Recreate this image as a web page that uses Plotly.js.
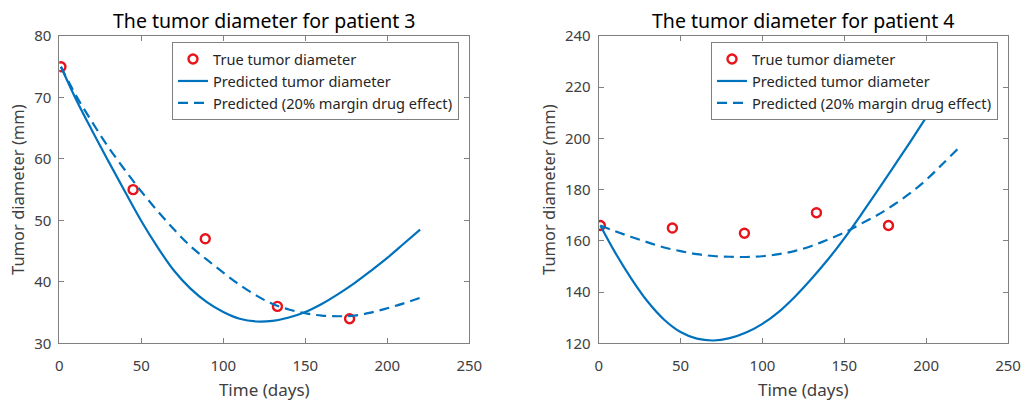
<!DOCTYPE html>
<html>
<head>
<meta charset="utf-8">
<script src="https://cdn.plot.ly/plotly-3.0.1.min.js"></script>
<style>
  html, body { margin: 0; padding: 0; background: #fff; }
  #chart { width: 1025px; height: 401px; }
</style>
</head>
<body>
<div id="chart"></div>
<script>
// Measurement days and observed diameters
const obsDays = [1, 45, 89, 133, 177];
const truePatient3 = [75, 55, 47, 36, 34];
const truePatient4 = [166, 165, 163, 171, 166];

// Model time grid
const modelDays = [1, 10, 20, 30, 40, 50, 60, 70, 80, 90, 100, 110, 120, 130, 140, 150, 160, 170, 180, 190, 200, 210, 220];

// Patient 3 predictions
const predPatient3 = [75.0, 69.8, 64.6, 59.6, 54.7, 49.9, 45.6, 41.8, 38.9, 36.7, 35.1, 34.0, 33.55, 33.65, 34.2, 35.1, 36.4, 38.0, 39.8, 41.8, 43.9, 46.2, 48.5];
const marginPatient3 = [75.0, 70.4, 66.0, 61.9, 58.2, 54.7, 51.5, 48.5, 45.8, 43.6, 41.5, 39.5, 37.8, 36.4, 35.5, 34.9, 34.5, 34.4, 34.5, 35.0, 35.7, 36.5, 37.4];

// Patient 4 predictions
const predPatient4 = [166, 155.5, 145.2, 136.2, 129.2, 124.4, 121.8, 121.1, 122.0, 124.2, 127.6, 132.3, 138.3, 145.2, 152.7, 161.0, 170.0, 179.3, 188.8, 198.4, 208.2, 218.2, 228.4];
const marginPatient4 = [166, 163.8, 161.5, 159.4, 157.4, 156.0, 154.8, 154.1, 153.8, 153.7, 154.0, 154.8, 156.1, 158.0, 160.5, 163.2, 166.6, 170.0, 174.0, 178.5, 183.8, 190.0, 196.4];

// Labels
const titles = ['The tumor diameter for patient 3', 'The tumor diameter for patient 4'];
const seriesNames = ['True tumor diameter', 'Predicted tumor diameter', 'Predicted (20% margin drug effect)'];
const xTitle = 'Time (days)';
const yTitle = 'Tumor diameter (mm)';

const BLUE = '#0072BD';
const RED = '#E8141B';
const FONT = 'Noto Sans, Open Sans, sans-serif';

function panel(xa, ya, leg, obs, pred, marg) {
  return [
    { x: obsDays, y: obs, xaxis: xa, yaxis: ya, legend: leg, name: seriesNames[0],
      type: 'scatter', mode: 'markers',
      marker: { symbol: 'circle-open', size: 9, color: RED, line: { width: 2.4, color: RED } } },
    { x: modelDays, y: pred, xaxis: xa, yaxis: ya, legend: leg, name: seriesNames[1],
      type: 'scatter', mode: 'lines',
      line: { color: BLUE, width: 2.2, shape: 'spline', smoothing: 1 } },
    { x: modelDays, y: marg, xaxis: xa, yaxis: ya, legend: leg, name: seriesNames[2],
      type: 'scatter', mode: 'lines',
      line: { color: BLUE, width: 2.2, dash: '10px,6px', shape: 'spline', smoothing: 1 } }
  ];
}

const traces = [
  ...panel('x', 'y', 'legend', truePatient3, predPatient3, marginPatient3),
  ...panel('x2', 'y2', 'legend2', truePatient4, predPatient4, marginPatient4)
];

const W = 1025, H = 401;
const px = v => v / W;
const py = v => 1 - v / H;

function xAxis(domain) {
  return {
    domain: domain, range: [0, 250], tickvals: [0, 50, 100, 150, 200, 250],
    ticks: 'inside', ticklen: 5, tickcolor: '#808080', tickwidth: 1,
    showline: true, linecolor: '#808080', linewidth: 1, mirror: 'ticks',
    showgrid: false, zeroline: false, ticklabelstandoff: 9,
    tickfont: { family: FONT, size: 15, color: '#404040' },
    title: { text: xTitle, font: { family: FONT, size: 17, color: '#404040' }, standoff: 9 }
  };
}
function yAxis(domain, range, dtick, anchor) {
  return {
    domain: domain, range: range, dtick: dtick, anchor: anchor,
    ticks: 'inside', ticklen: 5, tickcolor: '#808080', tickwidth: 1,
    showline: true, linecolor: '#808080', linewidth: 1, mirror: 'ticks',
    showgrid: false, zeroline: false, ticklabelstandoff: 4,
    tickfont: { family: FONT, size: 15, color: '#404040' },
    title: { text: yTitle, font: { family: FONT, size: 16.5, color: '#404040' }, standoff: 5 }
  };
}

const yDom = [py(343.3), py(36)];
const x1Dom = [px(59.3), px(469.3)];
const x2Dom = [px(598.7), px(1008)];

function legendBox(xLeft) {
  return {
    x: px(xLeft), y: py(42), xanchor: 'left', yanchor: 'top',
    bgcolor: '#ffffff', bordercolor: '#808080', borderwidth: 1,
    font: { family: FONT, size: 14.6, color: '#262626' },
    itemwidth: 30, tracegroupgap: 0
  };
}

const layout = {
  width: W, height: H,
  margin: { l: 0, r: 0, t: 0, b: 0 },
  paper_bgcolor: '#ffffff', plot_bgcolor: '#ffffff',
  showlegend: true,
  xaxis: Object.assign(xAxis(x1Dom), { anchor: 'y' }),
  yaxis: yAxis(yDom, [30, 80], 10, 'x'),
  xaxis2: Object.assign(xAxis(x2Dom), { anchor: 'y2' }),
  yaxis2: yAxis(yDom, [120, 240], 20, 'x2'),
  legend: legendBox(172),
  legend2: legendBox(711),
  annotations: [
    { text: titles[0], xref: 'paper', yref: 'paper', x: (x1Dom[0] + x1Dom[1]) / 2, y: py(20),
      xanchor: 'center', yanchor: 'middle', showarrow: false,
      font: { family: FONT, size: 19.5, color: '#000000' } },
    { text: titles[1], xref: 'paper', yref: 'paper', x: (x2Dom[0] + x2Dom[1]) / 2, y: py(20),
      xanchor: 'center', yanchor: 'middle', showarrow: false,
      font: { family: FONT, size: 19.5, color: '#000000' } }
  ]
};

Plotly.newPlot('chart', traces, layout, { staticPlot: true, displayModeBar: false });
</script>
</body>
</html>
